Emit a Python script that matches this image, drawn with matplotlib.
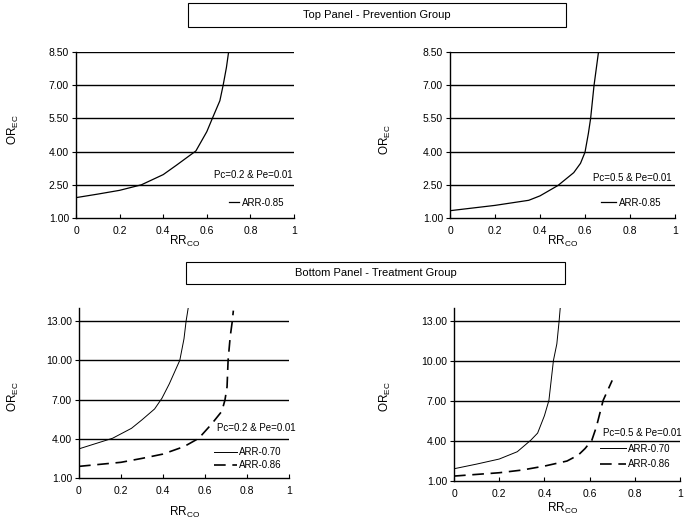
import numpy as np
import matplotlib.pyplot as plt
from matplotlib.patches import Rectangle

plt.rcParams['font.family'] = ['Liberation Sans', 'DejaVu Sans']
plt.rcParams['font.size'] = 7.5

# Данные
# Верхняя панель, Pc=0.2, ARR-0.85
tl_x = [0.0, 0.1, 0.2, 0.3, 0.4, 0.46, 0.55, 0.6, 0.625, 0.66, 0.675, 0.69, 0.70]
tl_y = [1.92, 2.08, 2.25, 2.5, 2.96, 3.38, 4.03, 4.9, 5.49, 6.3, 7.0, 7.8, 8.5]

# Верхняя панель, Pc=0.5, ARR-0.85
tr_x = [0.0, 0.2, 0.35, 0.4, 0.48, 0.55, 0.58, 0.6, 0.615, 0.625, 0.64, 0.66]
tr_y = [1.33, 1.57, 1.80, 2.0, 2.47, 3.05, 3.47, 3.97, 4.82, 5.5, 6.98, 8.5]

# Нижняя панель, Pc=0.2
bl_x70 = [0.0, 0.16, 0.25, 0.3, 0.36, 0.395, 0.43, 0.48, 0.5, 0.51, 0.52]
bl_y70 = [3.23, 4.04, 4.8, 5.45, 6.28, 7.1, 8.2, 10.0, 11.65, 13.0, 14.0]
bl_x86 = [0.0, 0.2, 0.3, 0.4, 0.5, 0.57, 0.63, 0.68, 0.695, 0.705, 0.71, 0.72, 0.73, 0.735]
bl_y86 = [1.89, 2.2, 2.5, 2.83, 3.4, 4.03, 5.1, 6.1, 6.96, 7.97, 10.0, 11.8, 13.0, 13.8]

# Нижняя панель, Pc=0.5
br_x70 = [0.0, 0.1, 0.2, 0.28, 0.34, 0.37, 0.4, 0.42, 0.44, 0.455, 0.465, 0.47]
br_y70 = [1.92, 2.27, 2.65, 3.2, 4.07, 4.6, 5.9, 7.06, 10.06, 11.3, 13.0, 14.0]
br_x86 = [0.0, 0.2, 0.3, 0.4, 0.5, 0.55, 0.58, 0.61, 0.63, 0.66, 0.7]
br_y86 = [1.37, 1.62, 1.82, 2.12, 2.5, 2.95, 3.44, 4.07, 5.07, 7.06, 8.56]

top_yticks = [1.0, 2.5, 4.0, 5.5, 7.0, 8.5]
bot_yticks = [1.0, 4.0, 7.0, 10.0, 13.0]
xticks = [0, 0.2, 0.4, 0.6, 0.8, 1]
xlabels = ['0', '0.2', '0.4', '0.6', '0.8', '1']

W, H = 686, 520
fig = plt.figure(figsize=(W / 100, H / 100), dpi=100)


def px_axes(left, right, top, bottom):
    return fig.add_axes([left / W, 1 - bottom / H, (right - left) / W, (bottom - top) / H])


def style_axes(ax, yticks, ymax):
    ax.set_xlim(0, 1)
    ax.set_ylim(1, ymax)
    ax.set_xticks(xticks)
    ax.set_xticklabels(xlabels)
    ax.set_yticks(yticks)
    ax.set_yticklabels(['%.2f' % v for v in yticks])
    for v in yticks[1:]:
        ax.axhline(v, color='black', lw=1.0, zorder=1)
    ax.spines['top'].set_visible(False)
    ax.spines['right'].set_visible(False)
    ax.spines['left'].set_linewidth(1.0)
    ax.spines['bottom'].set_linewidth(1.0)
    ax.tick_params(axis='x', direction='in', length=3, pad=6)
    ax.tick_params(axis='y', direction='out', length=3, pad=2)


def add_legend(ax, x, y, hlen, spacing=0.4):
    ax.legend(loc='center left', bbox_to_anchor=(x, y), frameon=False, fontsize=7,
              handlelength=hlen, handletextpad=0.25, borderaxespad=0, borderpad=0,
              labelspacing=spacing)


def banner(text, left, right, top, bottom):
    fig.patches.append(Rectangle((left / W, 1 - bottom / H), (right - left) / W,
                                 (bottom - top) / H, transform=fig.transFigure,
                                 facecolor='white', edgecolor='black', lw=0.8))
    fig.text((left + right) / 2 / W, 1 - (top + bottom) / 2 / H, text,
             ha='center', va='center', fontsize=8)


dash = (0, (7, 4))

# Верхний левый график
ax1 = px_axes(76, 294, 52, 218)
style_axes(ax1, top_yticks, 8.5)
ax1.plot(tl_x, tl_y, 'k-', lw=0.9, label='ARR-0.85')
ax1.text(0.995, 2.93, 'Pc=0.2 & Pe=0.01', ha='right', va='center', fontsize=7)
add_legend(ax1, 0.70, 0.091, 1.1)

# Верхний правый график
ax2 = px_axes(450, 675, 52, 218)
style_axes(ax2, top_yticks, 8.5)
ax2.plot(tr_x, tr_y, 'k-', lw=0.9, label='ARR-0.85')
ax2.text(0.985, 2.8, 'Pc=0.5 & Pe=0.01', ha='right', va='center', fontsize=7)
add_legend(ax2, 0.67, 0.091, 1.6)

# Нижний левый график
ax3 = px_axes(79, 289, 308, 478)
style_axes(ax3, bot_yticks, 14)
ax3.plot(bl_x70, bl_y70, 'k-', lw=0.7, label='ARR-0.70')
ax3.plot(bl_x86, bl_y86, color='black', ls=dash, lw=1.2, label='ARR-0.86')
ax3.text(0.655, 4.8, 'Pc=0.2 & Pe=0.01', ha='left', va='center', fontsize=7)
add_legend(ax3, 0.645, 0.113, 2.3, 0.35)

# Нижний правый график
ax4 = px_axes(454, 680, 308, 481)
style_axes(ax4, bot_yticks, 14)
ax4.plot(br_x70, br_y70, 'k-', lw=0.7, label='ARR-0.70')
ax4.plot(br_x86, br_y86, color='black', ls=dash, lw=1.2, label='ARR-0.86')
ax4.text(0.66, 4.6, 'Pc=0.5 & Pe=0.01', ha='left', va='center', fontsize=7)
add_legend(ax4, 0.645, 0.142, 2.7, 0.55)

# Подписи осей
for xp, yp in [(13, 130), (385, 140), (13, 397), (385, 397)]:
    fig.text(xp / W, 1 - yp / H, 'OR$_{\\mathregular{EC}}$', rotation=90,
             ha='center', va='center', fontsize=8.5)
for xp, yp in [(185, 241), (563, 241), (185, 512), (563, 508)]:
    fig.text(xp / W, 1 - yp / H, 'RR$_{\\mathregular{CO}}$',
             ha='center', va='center', fontsize=8.5)

# Заголовки панелей
banner('Top Panel - Prevention Group', 188, 566, 3, 27)
banner('Bottom Panel - Treatment Group', 186, 565, 262, 284)

plt.savefig('out.png', dpi=100)
